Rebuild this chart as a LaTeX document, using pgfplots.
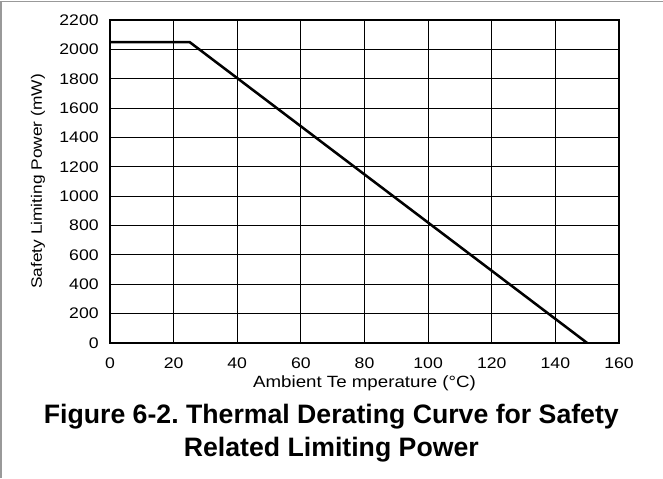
\documentclass[border=0pt]{standalone}
\usepackage{pgfplots}
\pgfplotsset{compat=1.18}
\usepackage{fontspec}
\setmainfont{Liberation Sans}
\newfontfamily\widefont[FakeStretch=1.15]{Liberation Sans}
\frenchspacing
\begin{document}
\begin{tikzpicture}
% 1 px of the reference = 0.75pt
\path[use as bounding box] (0,0) rectangle (497.25pt,358.5pt);
\draw[gray!80,line width=1.2pt] (0,357.3pt) -- (497.25pt,357.3pt);
\draw[gray!80,line width=1.2pt] (0.8pt,0) -- (0.8pt,358pt);
\begin{axis}[
    at={(82.5pt,101.25pt)}, anchor=south west,
    scale only axis,
    width=381.75pt, height=242.25pt,
    xmin=0, xmax=160, ymin=0, ymax=2200,
    xtick={0,20,...,160}, ytick={0,200,...,2200},
    grid=major,
    major grid style={black, line width=0.7pt},
    axis line style={line width=2.2pt},
    major tick length=0pt,
    tick label style={font=\widefont\fontsize{11.5pt}{13pt}\selectfont},
    /pgf/number format/assume math mode=true,
    /pgf/number format/1000 sep={},
    xticklabel style={yshift=-7.5pt},
    yticklabel style={xshift=-5pt},
    xlabel={Ambient Te mperature (\textdegree C)},
    ylabel={Safety Limiting Power (mW)},
    xlabel style={font=\widefont\fontsize{12.2pt}{14pt}\selectfont, yshift=1.8pt},
    ylabel style={font=\widefont\fontsize{11.3pt}{13pt}\selectfont, yshift=4pt},
]
\addplot[black, line width=1.9pt, line join=round] coordinates {(0,2050) (25,2050) (150,0)};
\end{axis}
\node[anchor=base, font=\bfseries\fontsize{20pt}{24pt}\selectfont] at (248.5pt,41.25pt) {Figure 6-2. Thermal Derating Curve for Safety};
\node[anchor=base, font=\bfseries\fontsize{20pt}{24pt}\selectfont] at (248.5pt,16.5pt) {Related Limiting Power};
\end{tikzpicture}
\end{document}
